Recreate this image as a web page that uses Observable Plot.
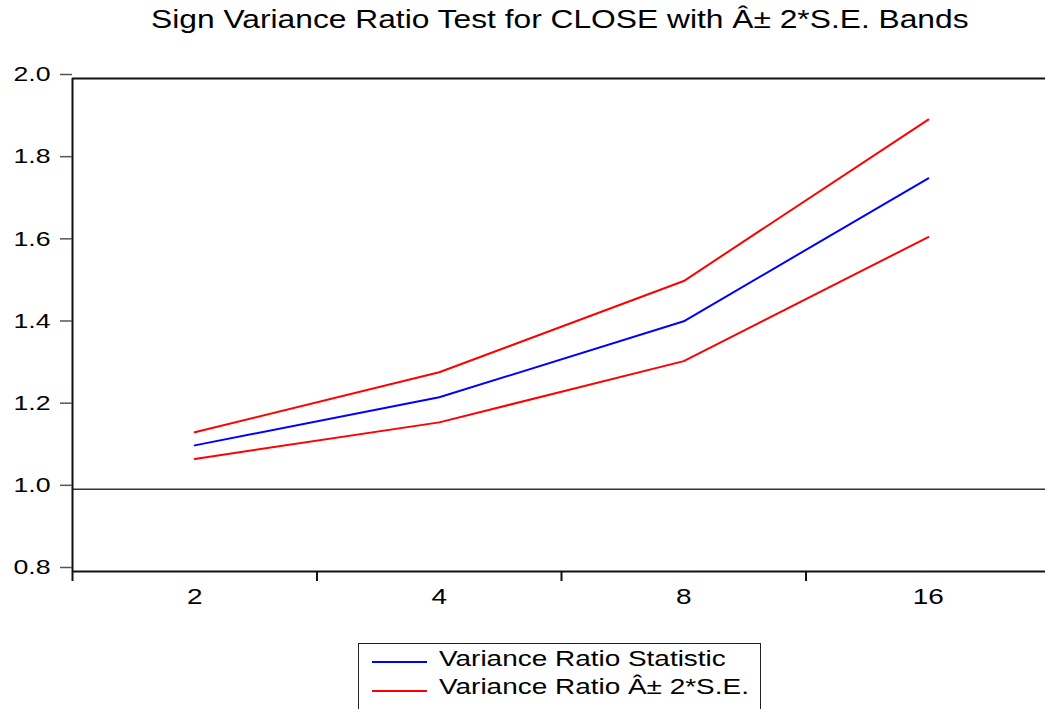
<!DOCTYPE html>
<html>
<head>
<meta charset="utf-8">
<script src="https://cdn.jsdelivr.net/npm/d3@7"></script>
<script src="https://cdn.jsdelivr.net/npm/@observablehq/plot@0.6"></script>
<style>
  body { margin: 0; background: #fff; font-family: "Liberation Sans", Arial, sans-serif; color: #000; }
  #wrap { position: relative; width: 1045px; height: 709px; overflow: hidden; background: #fff; }
  #title { position: absolute; left: 0; top: 0; width: 1120px; text-align: center; font-size: 25px; line-height: 38px; white-space: nowrap; }
  #title span { display: inline-block; transform: scaleX(1.27); transform-origin: center; }
  #chart { position: absolute; left: 0; top: 50px; }
  #legend { position: absolute; left: 358px; top: 643px; width: 403px; height: 90px; border: 1.5px solid #222; box-sizing: border-box; }
  .lg-line { position: absolute; height: 2px; width: 55px; }
  .lg-text { position: absolute; font-size: 22px; line-height: 22px; white-space: nowrap; transform: scaleX(1.27); transform-origin: left center; }
</style>
</head>
<body>
<div id="wrap">
  <div id="title"><span></span></div>
  <div id="chart"></div>
  <div id="legend"></div>
</div>
<script>
const titleText = "Sign Variance Ratio Test for CLOSE with Â± 2*S.E. Bands";
const lags = ["2", "4", "8", "16"];
const vrStat = [1.107, 1.224, 1.409, 1.757];
const upperBand = [1.139, 1.285, 1.507, 1.900];
const lowerBand = [1.074, 1.163, 1.312, 1.614];
const yTicks = [0.8, 1.0, 1.2, 1.4, 1.6, 1.8, 2.0];
const legendLabels = ["Variance Ratio Statistic", "Variance Ratio Â± 2*S.E."];
const legendColors = ["#0000ff", "#ff0000"];

document.querySelector("#title span").textContent = titleText;

const idx = lags.map((d, i) => i);
const bounds = [-0.5, 0.5, 1.5, 2.5];

const plot = Plot.plot({
  width: 1045,
  height: 590,
  marginTop: 28,
  marginBottom: 69,
  marginLeft: 72,
  marginRight: 0,
  style: { fontFamily: "'Liberation Sans', Arial, sans-serif", fontSize: "21px", background: "white", overflow: "visible" },
  x: { type: "linear", domain: [-0.5, 3.5], range: [72, 1050] },
  y: { domain: [0.8, 2.0] },
  marks: [
    Plot.ruleY([1.0], { stroke: "#333", strokeWidth: 1.5 }),
    Plot.line(idx, { x: i => i, y: i => upperBand[i], stroke: "#ff0000", strokeWidth: 2 }),
    Plot.line(idx, { x: i => i, y: i => lowerBand[i], stroke: "#ff0000", strokeWidth: 2 }),
    Plot.line(idx, { x: i => i, y: i => vrStat[i], stroke: "#0000ff", strokeWidth: 2 }),
    Plot.ruleY([0.8, 2.0], { stroke: "#111", strokeWidth: 2 }),
    Plot.ruleX([-0.5], { stroke: "#111", strokeWidth: 2 }),
    Plot.axisY({ ticks: yTicks, tickSize: 12, tickPadding: 10, tickFormat: d => d.toFixed(1), stroke: "#555", strokeWidth: 1.5, fill: "#000", dy: -4, fontSize: 21 }),
    Plot.axisX({ ticks: bounds, tickSize: 10, tickFormat: () => "", stroke: "#111", strokeWidth: 2 }),
    Plot.axisX({ ticks: idx, tickSize: 0, tickPadding: 17, tickFormat: i => lags[i], fill: "#000", fontSize: 22 })
  ]
});
document.getElementById("chart").append(plot);

// horizontal stretch of SVG text to mimic the original rendering
plot.querySelectorAll("text").forEach(t => {
  const len = t.getComputedTextLength();
  if (len > 0) {
    t.setAttribute("textLength", (len * 1.27).toFixed(2));
    t.setAttribute("lengthAdjust", "spacingAndGlyphs");
  }
});

const legend = document.getElementById("legend");
const rowTops = [648, 676.5];
const lineYs = [662, 691];
legendLabels.forEach((lab, i) => {
  const ln = document.createElement("div");
  ln.className = "lg-line";
  ln.style.background = legendColors[i];
  ln.style.left = (372 - 358 - 1.5) + "px";
  ln.style.top = (lineYs[i] - 643 - 1.5 - 1) + "px";
  legend.append(ln);
  const tx = document.createElement("div");
  tx.className = "lg-text";
  tx.textContent = lab;
  tx.style.left = (439 - 358 - 1.5) + "px";
  tx.style.top = (rowTops[i] - 643 - 1.5) + "px";
  legend.append(tx);
});
</script>
</body>
</html>
